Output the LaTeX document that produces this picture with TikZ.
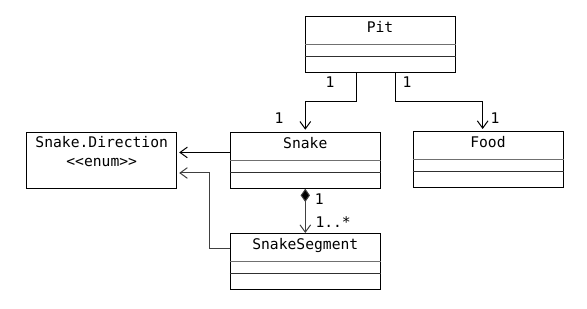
\documentclass[tikz,border=0pt]{standalone}
\usepackage{fontspec}
\setmonofont{DejaVu Sans Mono}
\usepackage{tikz}
\usetikzlibrary{arrows.meta, positioning, calc}
\definecolor{umlline}{HTML}{000000}
\definecolor{umlsep}{HTML}{707070}
\definecolor{umlsepdark}{HTML}{303030}
\definecolor{umlgrey}{HTML}{404040}

% one class box: name, x, top y, label
\newcommand{\umlclass}[4]{%
  \node[classbox, anchor=north] (#1) at (#2,#3) {};
  \node[anchor=base] (#1-name) at ($(#1.north)+(0,16.7)$) {#4};
  \draw[umlsep] ($(#1.north west)+(0,29)$) -- ($(#1.north east)+(0,29)$);
  \draw[umlsepdark] ($(#1.north west)+(0,41)$) -- ($(#1.north east)+(0,41)$);
}

\begin{document}
\begin{tikzpicture}[x=0.75pt, y=-0.75pt, font=\ttfamily\fontsize{11}{14}\selectfont, line width=0.75pt,
  classbox/.style={draw=umlline, minimum width=112.5pt, minimum height=42pt, inner sep=0pt},
  assoc/.style={draw=umlline, -{Straight Barb[length=5.5pt, width=8pt]}, shorten >=1.5pt},
  assocgrey/.style={draw=umlgrey, -{Straight Barb[length=5.5pt, width=8pt]}, shorten >=1.5pt},
  compo/.style={draw=umlgrey, {Diamond[length=10pt, width=7pt, fill=black]}-{Straight Barb[length=5.5pt, width=8pt]}},
  mult/.style={anchor=base}]
  \useasboundingbox (0,0) rectangle (587,309);
  \umlclass{pit}{380}{16}{Pit}
  \umlclass{snake}{305.3}{131.7}{Snake}
  \umlclass{food}{488}{131}{Food}
  \umlclass{seg}{305.3}{233}{SnakeSegment}
  \node[classbox, anchor=north] (dir) at (101.7,131.7) {};
  \node[anchor=base] (dir-name) at (101.7,147.3) {Snake.Direction};
  \node[anchor=base] (dir-stereo) at (101.7,166.7) {<{}<enum>{}>};

  \draw[assoc] ([xshift=-17.5pt]pit.south) -- ++(0,28.7) -| (snake.north);
  \draw[assoc] ([xshift=11.8pt]pit.south) -- ++(0,28.7) -| ([xshift=-4pt]food.north);
  \draw[assoc] ([yshift=5.8pt]snake.west) -- ([yshift=5.8pt]snake.west -| dir.east);
  \draw[assocgrey] ([yshift=9.5pt]seg.west) -- ++(-20.7,0) |- ([yshift=-9.6pt]dir.east);
  \draw[compo] (snake.south) -- (seg.north);

  \node[mult] (m-pit-snake) at (330,87.7) {1};
  \node[mult] (m-pit-food) at (407,87.7) {1};
  \node[mult] (m-snake) at (279,124) {1};
  \node[mult] (m-food) at (495,124) {1};
  \node[mult] (m-comp-one) at (319.3,204.3) {1};
  \node[mult, anchor=base west, inner xsep=0pt] (m-comp-many) at (315,227.3) {1..*};
\end{tikzpicture}
\end{document}
